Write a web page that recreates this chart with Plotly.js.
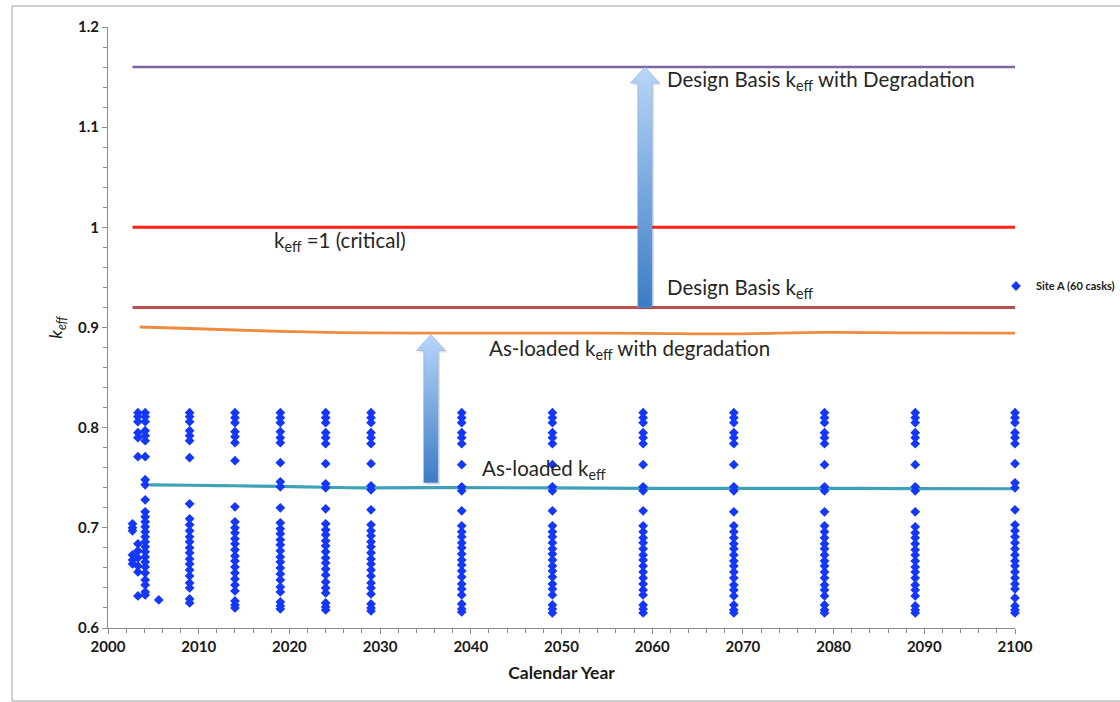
<!DOCTYPE html>
<html>
<head>
<meta charset="utf-8">
<script src="https://cdn.plot.ly/plotly-3.0.1.min.js"></script>
<style>
  html, body { margin: 0; padding: 0; background: #ffffff; }
  #chart { width: 1120px; height: 702px; }
</style>
</head>
<body>
<div id="chart"></div>
<script>
// ---- Site A cask k_eff values, one array per calendar-year column ----
const keff2002 = [0.704, 0.700, 0.697, 0.673, 0.668, 0.664];
const keff2003 = [0.815, 0.811, 0.806, 0.795, 0.790, 0.771, 0.684, 0.677, 0.670, 0.662, 0.656, 0.632];
const keff2004 = [0.815, 0.811, 0.806, 0.797, 0.792, 0.787, 0.771, 0.748, 0.743, 0.728, 0.716, 0.711,
                  0.706, 0.701, 0.696, 0.691, 0.686, 0.681, 0.676, 0.671, 0.666, 0.661, 0.655, 0.648,
                  0.643, 0.636, 0.633];
const keff2005 = [0.628];
const keff2009 = [0.815, 0.811, 0.806, 0.797, 0.792, 0.787, 0.770, 0.724, 0.709, 0.703, 0.697, 0.691,
                  0.686, 0.680, 0.675, 0.669, 0.664, 0.658, 0.652, 0.645, 0.640, 0.629, 0.625];
const keff2014 = [0.815, 0.810, 0.805, 0.796, 0.791, 0.785, 0.767, 0.721, 0.706, 0.700, 0.695, 0.689,
                  0.684, 0.678, 0.672, 0.667, 0.661, 0.655, 0.649, 0.643, 0.637, 0.627, 0.623, 0.620];
const keff2019 = [0.815, 0.810, 0.805, 0.796, 0.790, 0.785, 0.765, 0.746, 0.741, 0.720, 0.705, 0.699,
                  0.694, 0.688, 0.683, 0.677, 0.671, 0.666, 0.660, 0.654, 0.648, 0.641, 0.636, 0.626,
                  0.622, 0.619];
const keff2024 = [0.815, 0.810, 0.805, 0.795, 0.790, 0.784, 0.764, 0.744, 0.740, 0.719, 0.704, 0.698,
                  0.693, 0.687, 0.682, 0.676, 0.670, 0.665, 0.659, 0.653, 0.646, 0.640, 0.635, 0.625,
                  0.621, 0.618];
const keff2029 = [0.815, 0.810, 0.805, 0.795, 0.790, 0.784, 0.764, 0.742, 0.738, 0.718, 0.703, 0.697,
                  0.692, 0.686, 0.681, 0.675, 0.669, 0.664, 0.658, 0.652, 0.645, 0.640, 0.634, 0.624,
                  0.620, 0.617];
const keff2039 = [0.815, 0.810, 0.805, 0.795, 0.790, 0.784, 0.763, 0.741, 0.737, 0.717, 0.702, 0.696,
                  0.691, 0.685, 0.680, 0.674, 0.668, 0.663, 0.657, 0.651, 0.644, 0.639, 0.633, 0.624,
                  0.619, 0.616];
const keff2049 = [0.815, 0.810, 0.805, 0.795, 0.790, 0.784, 0.763, 0.741, 0.737, 0.717, 0.702, 0.696,
                  0.691, 0.685, 0.679, 0.674, 0.668, 0.662, 0.657, 0.651, 0.644, 0.639, 0.633, 0.623,
                  0.619, 0.615];
const keff2059 = [0.815, 0.810, 0.805, 0.795, 0.790, 0.784, 0.763, 0.741, 0.737, 0.717, 0.702, 0.696,
                  0.690, 0.685, 0.679, 0.673, 0.668, 0.662, 0.656, 0.650, 0.644, 0.638, 0.633, 0.623,
                  0.619, 0.615];
const keff2069 = [0.815, 0.810, 0.805, 0.795, 0.790, 0.784, 0.763, 0.741, 0.737, 0.716, 0.702, 0.696,
                  0.690, 0.684, 0.679, 0.673, 0.667, 0.662, 0.656, 0.650, 0.643, 0.638, 0.632, 0.623,
                  0.618, 0.615];
const keff2079 = [0.815, 0.810, 0.805, 0.795, 0.790, 0.784, 0.763, 0.741, 0.737, 0.716, 0.702, 0.696,
                  0.690, 0.684, 0.679, 0.673, 0.667, 0.662, 0.656, 0.650, 0.643, 0.638, 0.632, 0.623,
                  0.618, 0.615];
const keff2089 = [0.815, 0.810, 0.805, 0.795, 0.790, 0.784, 0.763, 0.741, 0.737, 0.716, 0.701, 0.695,
                  0.690, 0.684, 0.678, 0.673, 0.667, 0.661, 0.656, 0.650, 0.643, 0.638, 0.632, 0.622,
                  0.618, 0.615];
const keff2100 = [0.815, 0.810, 0.805, 0.795, 0.790, 0.784, 0.764, 0.745, 0.740, 0.718, 0.703, 0.697,
                  0.691, 0.685, 0.679, 0.673, 0.667, 0.662, 0.656, 0.650, 0.644, 0.639, 0.630, 0.622,
                  0.618, 0.615];

const caskColumns = [
  [2002.7, keff2002], [2003.3, keff2003], [2004.1, keff2004], [2005.6, keff2005],
  [2009, keff2009], [2014, keff2014], [2019, keff2019], [2024, keff2024], [2029, keff2029],
  [2039, keff2039], [2049, keff2049], [2059, keff2059], [2069, keff2069], [2079, keff2079],
  [2089, keff2089], [2100, keff2100]
];

// ---- Reference k_eff levels ----
const levelYears = [2002.7, 2100];
const designBasisDegraded = 1.16;
const critical = 1.0;
const designBasis = 0.92;

// ---- Fleet-average curves ----
const curveYears      = [2003.5, 2009, 2014, 2019, 2024, 2029, 2039, 2049, 2059, 2069, 2079, 2089, 2100];
const asLoadedDegraded = [0.9005, 0.899, 0.8975, 0.8962, 0.8952, 0.8946, 0.8944, 0.8944, 0.8942, 0.8936, 0.8952, 0.8946, 0.8944];
const asLoadedYears   = [2004.6, 2009, 2014, 2019, 2024, 2029, 2039, 2049, 2059, 2069, 2079, 2089, 2100];
const asLoaded        = [0.7428, 0.7425, 0.742, 0.7413, 0.7405, 0.7398, 0.7402, 0.7398, 0.7394, 0.7394, 0.7394, 0.7392, 0.739];

// ---- Arrows showing the degradation margin (year, base k_eff, tip k_eff) ----
const marginArrowYear = [2059.2, 2035.6];
const marginArrowBase = [0.920, 0.745];
const marginArrowTip  = [1.160, 0.893];

// ---- Axis set-up ----
const X_RANGE = [2000, 2100];
const Y_RANGE = [0.6, 1.2];
const W = 1120, H = 702;
const M = { l: 108, r: 105, t: 27, b: 74 };
const plotW = W - M.l - M.r;
const plotH = H - M.t - M.b;
const pxPerYear = plotW / (X_RANGE[1] - X_RANGE[0]);
const pxPerK = plotH / (Y_RANGE[1] - Y_RANGE[0]);

const FONT = 'Lato, "Open Sans", sans-serif';
const AXIS_GREY = '#8c8c8c';

// Flatten the columns into one marker series
const caskX = [], caskY = [];
caskColumns.forEach(([yr, vals]) => vals.forEach(v => { caskX.push(yr); caskY.push(v); }));

function levelTrace(value, color, width) {
  return {
    x: levelYears, y: levelYears.map(() => value),
    mode: 'lines', line: { color: color, width: width },
    showlegend: false, hoverinfo: 'skip'
  };
}

// Block arrow outline in data units, sized in pixels
function blockArrow(xc, yBase, yTip) {
  const shaft = 7.2 / pxPerYear, head = 14.5 / pxPerYear, headLen = 16 / pxPerK;
  return {
    x: [xc - shaft, xc - shaft, xc - head, xc, xc + head, xc + shaft, xc + shaft, xc - shaft],
    y: [yBase, yTip - headLen, yTip - headLen, yTip, yTip - headLen, yTip - headLen, yBase, yBase]
  };
}

const arrowTraces = [];
marginArrowYear.forEach((yr, i) => {
  const shadow = blockArrow(yr + 2 / pxPerYear, marginArrowBase[i] - 2 / pxPerK, marginArrowTip[i] - 2 / pxPerK);
  arrowTraces.push({
    x: shadow.x, y: shadow.y, mode: 'lines', fill: 'toself',
    fillcolor: 'rgba(0,0,0,0.12)', line: { width: 0 },
    showlegend: false, hoverinfo: 'skip'
  });
  const a = blockArrow(yr, marginArrowBase[i], marginArrowTip[i]);
  arrowTraces.push({
    x: a.x, y: a.y, mode: 'lines', fill: 'toself',
    fillgradient: { type: 'vertical', colorscale: [[0, '#3b7cc6'], [1, '#b8d6f8']] },
    line: { width: 0.6, color: 'rgba(120,165,220,0.8)' },
    showlegend: false, hoverinfo: 'skip'
  });
});

const traces = [
  levelTrace(designBasisDegraded, '#8064a2', 2.5),
  levelTrace(critical, '#ff2314', 3),
  levelTrace(designBasis, '#b9504c', 3),
  {
    x: curveYears, y: asLoadedDegraded, mode: 'lines',
    line: { color: '#ef8b3e', width: 2.8, shape: 'spline' },
    showlegend: false, hoverinfo: 'skip'
  },
  {
    x: asLoadedYears, y: asLoaded, mode: 'lines',
    line: { color: '#3ea2b6', width: 3.2, shape: 'spline' },
    showlegend: false, hoverinfo: 'skip'
  },
  {
    x: caskX, y: caskY, mode: 'markers', name: 'Site A (60 casks)',
    marker: { symbol: 'diamond', size: 7.5, color: '#1437fa' },
    cliponaxis: false, showlegend: true
  },
  ...arrowTraces
];

const textFont = { family: FONT, size: 20.5, color: '#262626' };
function note(text, year, k) {
  return { text: text, x: year, y: k, xref: 'x', yref: 'y', xanchor: 'left', yanchor: 'middle',
           showarrow: false, font: textFont };
}

// Outer chart frame, given in pixels
const frame = { left: 12, top: 6, right: 1130, bottom: 701 };

const layout = {
  width: W, height: H,
  margin: { l: M.l, r: M.r, t: M.t, b: M.b, autoexpand: false },
  paper_bgcolor: '#ffffff', plot_bgcolor: '#ffffff',
  font: { family: FONT, color: '#1a1a1a' },
  xaxis: {
    range: X_RANGE, tick0: 2000, dtick: 10, showgrid: false, zeroline: false,
    showline: true, linecolor: AXIS_GREY, linewidth: 1,
    ticks: 'outside', ticklen: 5, tickcolor: AXIS_GREY,
    minor: { dtick: 2, ticks: 'outside', ticklen: 4, tickcolor: AXIS_GREY },
    tickfont: { family: FONT, size: 15, weight: 'bold', color: '#1a1a1a' },
    title: { text: 'Calendar Year', font: { family: FONT, size: 17.5, weight: 'bold', color: '#1a1a1a' }, standoff: 12 }
  },
  yaxis: {
    range: Y_RANGE, dtick: 0.1, showgrid: false, zeroline: false,
    showline: true, linecolor: AXIS_GREY, linewidth: 1,
    ticks: 'outside', ticklen: 5, tickcolor: AXIS_GREY,
    minor: { dtick: 0.02, ticks: 'outside', ticklen: 4, tickcolor: AXIS_GREY },
    tickfont: { family: FONT, size: 15, weight: 'bold', color: '#1a1a1a' },
    title: { text: '<i>k<sub>eff</sub></i>', font: { family: FONT, size: 18, color: '#1a1a1a' }, standoff: 10 }
  },
  legend: {
    x: (1120 - M.l) / plotW, xanchor: 'right',
    y: (H - M.b - 286) / plotH, yanchor: 'middle',
    bgcolor: 'rgba(0,0,0,0)', borderwidth: 0,
    font: { family: FONT, size: 11, weight: 'bold', color: '#1a1a1a' },
    itemwidth: 30
  },
  annotations: [
    note('Design Basis k<sub>eff</sub> with Degradation', 2061.4, 1.147),
    note('Design Basis k<sub>eff</sub>', 2061.4, 0.9385),
    note('k<sub>eff</sub> =1 (critical)', 2018.1, 0.9854),
    note('As-loaded k<sub>eff</sub> with degradation', 2041.8, 0.8776),
    note('As-loaded k<sub>eff</sub>', 2041.0, 0.7579)
  ],
  shapes: [{
    type: 'rect', xref: 'paper', yref: 'paper', layer: 'below',
    x0: (frame.left - M.l) / plotW, x1: (frame.right - M.l) / plotW,
    y0: (H - M.b - frame.bottom) / plotH, y1: (H - M.b - frame.top) / plotH,
    line: { color: '#a0a0a0', width: 1 }, fillcolor: 'rgba(0,0,0,0)'
  }]
};

Plotly.newPlot('chart', traces, layout, { displayModeBar: false, staticPlot: true });
</script>
</body>
</html>
